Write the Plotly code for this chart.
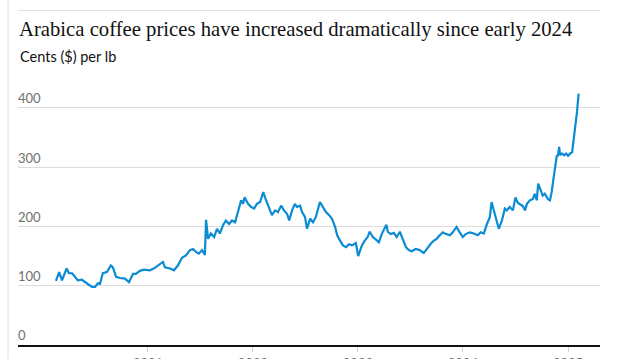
import plotly.graph_objects as go

# ---- data ----
dates = [
    "2020-02-16", "2020-02-27", "2020-03-08", "2020-03-24", "2020-04-01", "2020-04-12",
    "2020-04-22", "2020-05-02", "2020-05-16", "2020-05-27", "2020-06-06", "2020-06-20",
    "2020-07-01", "2020-07-11", "2020-07-18", "2020-07-28", "2020-08-11", "2020-08-25",
    "2020-09-01", "2020-09-12", "2020-09-26", "2020-10-13", "2020-10-27", "2020-11-10",
    "2020-11-20", "2020-12-04", "2020-12-18", "2021-01-01", "2021-01-08", "2021-01-25",
    "2021-02-12", "2021-02-22", "2021-03-01", "2021-03-19", "2021-04-01", "2021-04-15",
    "2021-04-29", "2021-05-13", "2021-05-27", "2021-06-07", "2021-06-17", "2021-06-27",
    "2021-07-08", "2021-07-18", "2021-07-22", "2021-07-29", "2021-08-08", "2021-08-19",
    "2021-08-29", "2021-09-08", "2021-09-19", "2021-09-29", "2021-10-10", "2021-10-20",
    "2021-10-31", "2021-11-10", "2021-11-21", "2021-11-28", "2021-12-03", "2021-12-15",
    "2021-12-25", "2022-01-05", "2022-01-15", "2022-01-26", "2022-02-06", "2022-02-12",
    "2022-02-19", "2022-03-01", "2022-03-08", "2022-03-19", "2022-03-29", "2022-04-09",
    "2022-04-19", "2022-04-30", "2022-05-07", "2022-05-17", "2022-05-27", "2022-06-03",
    "2022-06-14", "2022-06-21", "2022-07-01", "2022-07-08", "2022-07-19", "2022-07-29",
    "2022-08-08", "2022-08-22", "2022-09-02", "2022-09-12", "2022-09-23", "2022-10-03",
    "2022-10-14", "2022-10-21", "2022-10-31", "2022-11-10", "2022-11-21", "2022-12-01",
    "2022-12-12", "2022-12-25", "2023-01-02", "2023-01-15", "2023-01-25", "2023-02-04",
    "2023-02-11", "2023-02-22", "2023-03-04", "2023-03-15", "2023-03-25", "2023-04-10",
    "2023-04-15", "2023-04-25", "2023-05-06", "2023-05-16", "2023-05-27", "2023-06-06",
    "2023-06-17", "2023-06-27", "2023-07-07", "2023-07-21", "2023-08-04", "2023-08-18",
    "2023-09-01", "2023-09-12", "2023-09-22", "2023-10-02", "2023-10-13", "2023-10-23",
    "2023-10-30", "2023-11-17", "2023-11-27", "2023-12-10", "2023-12-21", "2024-01-01",
    "2024-01-11", "2024-01-25", "2024-02-08", "2024-02-22", "2024-03-03", "2024-03-14",
    "2024-03-24", "2024-04-04", "2024-04-10", "2024-04-18", "2024-04-28", "2024-05-05",
    "2024-05-16", "2024-05-26", "2024-06-02", "2024-06-12", "2024-06-23", "2024-07-02",
    "2024-07-10", "2024-07-17", "2024-07-28", "2024-08-04", "2024-08-11", "2024-08-21",
    "2024-08-31", "2024-09-07", "2024-09-14", "2024-09-19", "2024-09-28", "2024-10-05",
    "2024-10-12", "2024-10-23", "2024-10-30", "2024-11-05", "2024-11-12", "2024-11-19",
    "2024-11-23", "2024-11-26", "2024-12-01", "2024-12-04", "2024-12-11", "2024-12-18",
    "2024-12-25", "2025-01-01", "2025-01-08", "2025-01-15", "2025-01-18", "2025-01-22",
    "2025-01-25", "2025-01-29", "2025-02-01", "2025-02-05", "2025-02-07",
]
prices = [
    108, 123, 109, 129, 121, 121,
    115, 109, 110, 106, 102, 98,
    98, 104, 103, 121, 123, 134,
    131, 115, 113, 112, 106, 120,
    120, 125, 127, 127, 126, 130,
    136, 140, 131, 129, 126, 134,
    147, 151, 160, 162, 157, 154,
    160, 152, 211, 179, 188, 182,
    196, 188, 202, 210, 204, 210,
    207, 227, 244, 238, 249, 238,
    233, 230, 238, 241, 258, 249,
    241, 230, 219, 227, 224, 235,
    227, 221, 210, 227, 238, 233,
    235, 224, 216, 196, 213, 207,
    216, 241, 233, 224, 219, 213,
    199, 185, 176, 168, 165, 170,
    168, 172, 150, 168, 176, 182,
    191, 182, 178, 173, 187, 203,
    191, 187, 189, 182, 191, 179,
    165, 160, 158, 162, 160, 155,
    165, 171, 176, 179, 185, 190,
    188, 185, 190, 199, 190, 182,
    187, 190, 188, 185, 190, 188,
    203, 216, 241, 227, 210, 196,
    210, 230, 227, 233, 227, 249,
    240, 238, 234, 227, 238, 244,
    246, 255, 244, 272, 260, 252,
    255, 246, 244, 258, 283, 303,
    320, 318, 334, 320, 323, 320,
    323, 319, 323, 325, 337, 348,
    365, 376, 393, 415, 424,
]

year_ticks = ["2021-01-01", "2022-01-01", "2023-01-01", "2024-01-01", "2025-01-01"]
year_labels = ["2021", "2022", "2023", "2024", "2025"]
y_ticks = [0, 100, 200, 300, 400]
y_labels = ["0", "100", "200", "300", "400"]

title_text = "Arabica coffee prices have increased dramatically since early 2024"
subtitle_text = "Cents ($) per lb"

# ---- figure ----
W, H = 624, 359
ML, MR, MT, MB = 18, 24, 90, 14
plot_w = W - ML - MR
plot_h = H - MT - MB


def px_x(px):
    return (px - ML) / plot_w


def px_y(py):
    return (H - MB - py) / plot_h


fig = go.Figure(
    go.Scatter(
        x=dates, y=prices, mode="lines",
        line=dict(color="#0a8bd3", width=2.2),
        hoverinfo="skip",
    )
)

fig.update_layout(
    width=W, height=H,
    margin=dict(l=ML, r=MR, t=MT, b=MB, autoexpand=False),
    paper_bgcolor="white", plot_bgcolor="white",
    showlegend=False,
    title=dict(
        text=title_text,
        font=dict(family="Liberation Serif", size=20.7, color="#121212"),
        xref="container", yref="container",
        x=19 / W, xanchor="left",
        y=1 - 28.5 / H, yanchor="middle",
    ),
    annotations=[
        dict(
            text=subtitle_text, showarrow=False,
            xref="paper", yref="paper",
            x=px_x(18), y=px_y(56), xanchor="left", yanchor="middle",
            font=dict(family="Lato", size=14.5, color="#121212"),
        )
    ],
    shapes=[
        dict(type="line", xref="paper", yref="paper",
             x0=px_x(8), x1=px_x(8), y0=px_y(0), y1=px_y(H),
             line=dict(color="#dcdcdc", width=1)),
        dict(type="line", xref="paper", yref="paper",
             x0=px_x(18), x1=px_x(600), y0=px_y(10.5), y1=px_y(10.5),
             line=dict(color="#e0e0e0", width=1)),
    ],
)

fig.update_xaxes(
    type="date",
    range=["2019-10-07", "2025-04-22"],
    tickvals=year_ticks, ticktext=year_labels,
    showgrid=False, zeroline=False,
    showline=True, linecolor="#121212", linewidth=2,
    ticks="outside", ticklen=5, tickcolor="#d0d0d0", tickwidth=1,
    tickfont=dict(family="Lato", size=13, color="#707070"),
    automargin=False, fixedrange=True,
)

fig.update_yaxes(
    range=[0, 430],
    tickvals=y_ticks, ticktext=y_labels,
    showgrid=True, gridcolor="#dcdcdc", gridwidth=1,
    zeroline=False, showline=False, ticks="",
    ticklabelposition="inside top", ticklabelstandoff=-3,
    tickfont=dict(family="Lato", size=13, color="#707070"),
    automargin=False, fixedrange=True,
)

fig.write_html(
    "out.html",
    config={"displayModeBar": False, "staticPlot": True},
    post_script="document.body.style.margin='0';document.body.style.overflow='hidden';",
)
